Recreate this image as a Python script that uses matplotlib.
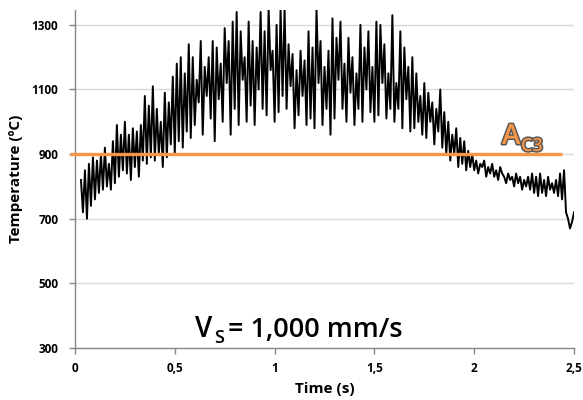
import numpy as np
import matplotlib
matplotlib.use("Agg")
import matplotlib.pyplot as plt
import matplotlib.patheffects as pe
from matplotlib.ticker import FuncFormatter

# ---- data ----
t_start = 0.03
t_step = 0.01
temperature = [
    820, 720, 850, 700, 870, 740, 890,
    760, 880, 780, 900, 790, 920, 800, 870, 790, 940,
    810, 990, 830, 960, 850, 1000, 840, 960, 820, 980,
    860, 970, 830, 990, 880, 1080, 870, 1050, 890, 1110,
    880, 1040, 900, 1000, 860, 1090, 890, 1060, 930, 1140,
    900, 1180, 940, 1200, 920, 1150, 970, 1240, 950, 1200,
    990, 1130, 1060, 1250, 960, 1170, 1080, 1200, 1010, 1250,
    940, 1230, 1070, 1180, 1000, 1290, 1120, 1250, 960, 1310,
    1040, 1340, 990, 1280, 1130, 1200, 1000, 1310, 1050, 1250,
    990, 1230, 1100, 1340, 1040, 1280, 1020, 1350, 1160, 1220,
    1000, 1300, 1030, 1350, 1080, 1350, 1040, 1240, 1110, 1210,
    980, 1160, 1020, 1220, 1080, 1190, 990, 1280, 1010, 1230,
    980, 1350, 1120, 1250, 990, 1170, 1040, 1220, 960, 1320,
    1010, 1260, 1130, 1310, 1040, 1180, 1000, 1260, 1090, 1200,
    990, 1150, 1040, 1300, 1000, 1230, 1100, 1280, 1030, 1170,
    1000, 1310, 1020, 1300, 1120, 1240, 1010, 1150, 1040, 1330,
    1000, 1120, 1040, 1280, 980, 1230, 1070, 1170, 970, 1200,
    980, 1150, 1000, 1080, 960, 1120, 950, 1090, 1000, 1060,
    930, 1040, 970, 1100, 920, 1030, 900, 1000, 880, 960,
    900, 980, 860, 950, 870, 940, 850, 910, 860, 900,
    850, 880, 840, 870, 860, 880, 830, 860, 840, 870,
    830, 850, 820, 860, 840, 830, 810, 840, 820, 830,
    800, 840, 810, 830, 790, 820, 800, 830, 790, 840,
    780, 830, 770, 840, 780, 820, 770, 830, 790, 810,
    780, 820, 770, 840, 760, 850, 720, 700, 670, 690,
    720,
]
time = [t_start + i * t_step for i in range(len(temperature))]

ac3_value = 900
ac3_range = [-0.025, 2.44]

x_ticks = [0, 0.5, 1, 1.5, 2, 2.5]
y_ticks = [300, 500, 700, 900, 1100, 1300]

plt.rcParams['font.family'] = ['Open Sans', 'DejaVu Sans']

# ---- figure ----
fig = plt.figure(figsize=(5.83, 4.0), dpi=100)
ax = fig.add_axes([0.1286, 0.13, 0.9846 - 0.1286, 0.975 - 0.13])

ax.set_xlim(0, 2.5)
ax.set_ylim(300, 1346)

for y in y_ticks[1:]:
    ax.axhline(y, color='#d9d9d9', lw=1.0, zorder=0)

ax.plot(time, temperature, color='black', lw=1.4, zorder=2)
ax.plot(ac3_range, [ac3_value, ac3_value], color='#F79646', lw=2.4,
        zorder=3, clip_on=False, solid_capstyle='butt')

for s in ['top', 'right']:
    ax.spines[s].set_visible(False)
for s in ['left', 'bottom']:
    ax.spines[s].set_color('#868686')
    ax.spines[s].set_linewidth(1.0)

ax.set_xticks(x_ticks)
ax.set_yticks(y_ticks)
ax.xaxis.set_major_formatter(FuncFormatter(lambda v, p: ('%g' % v).replace('.', ',')))
ax.tick_params(axis='both', colors='#868686', length=4, width=1.0, direction='out',
               labelcolor='black', labelsize=8.5)
ax.tick_params(axis='y', pad=8)
ax.tick_params(axis='x', pad=6)
for lab in ax.get_xticklabels() + ax.get_yticklabels():
    lab.set_fontweight('bold')

ax.set_xlabel('Time (s)', fontsize=11, fontweight='bold', labelpad=5)
ax.set_ylabel('Temperature (ºC)', fontsize=11, fontweight='bold')
ax.yaxis.set_label_coords(-0.104, 0.5)

# V_S annotation
fig.text(195 / 583, 1 - 337 / 400, 'V', fontsize=20, color='black',
         ha='left', va='baseline', fontweight='semibold')
fig.text(214 / 583, 1 - 343 / 400, 'S', fontsize=13, color='black',
         ha='left', va='baseline', fontweight='semibold')
fig.text(228 / 583, 1 - 337 / 400, '= 1,000 mm/s', fontsize=19.5,
         color='black', ha='left', va='baseline', fontweight='semibold')

# A_C3 label
stroke = [pe.withStroke(linewidth=2.2, foreground='#595959')]
fig.text(502 / 583, 1 - 144 / 400, 'A', fontsize=20, color='#F79646',
         ha='left', va='baseline', fontweight='semibold', path_effects=stroke)
fig.text(521 / 583, 1 - 151 / 400, 'C3', fontsize=13, color='#F79646',
         ha='left', va='baseline', fontweight='semibold', path_effects=stroke)

fig.savefig('out.png', dpi=100)
